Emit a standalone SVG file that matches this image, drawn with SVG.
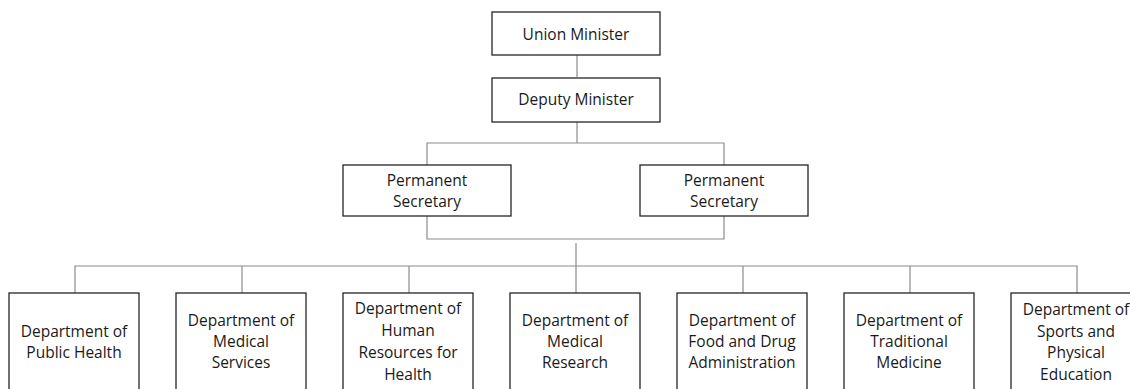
<svg xmlns="http://www.w3.org/2000/svg" width="1130" height="389" viewBox="0 0 1130 389">
  <style>
    .box { fill: #ffffff; stroke: #262626; stroke-width: 1.3; }
    .link { fill: none; stroke: #8c8c8c; stroke-width: 1.2; }
    text { font-family: "Open Sans", "Liberation Sans", sans-serif; font-size: 15.5px; fill: #1a1a1a; text-anchor: middle; }
  </style>
  <rect width="1130" height="389" fill="#ffffff"/>

  <!-- connectors -->
  <g id="connectors">
    <line class="link" x1="577" y1="55" x2="577" y2="77"/>
    <line class="link" x1="577" y1="122" x2="577" y2="143"/>
    <path class="link" d="M427 165 V143 H724 V165"/>
    <path class="link" d="M427 216 V239 H724 V216"/>
    <line class="link" x1="576" y1="243" x2="576" y2="266"/>
    <path class="link" d="M75 293 V266 H1077 V293"/>
    <line class="link" x1="242" y1="266" x2="242" y2="293"/>
    <line class="link" x1="409" y1="266" x2="409" y2="293"/>
    <line class="link" x1="576" y1="266" x2="576" y2="293"/>
    <line class="link" x1="743" y1="266" x2="743" y2="293"/>
    <line class="link" x1="910" y1="266" x2="910" y2="293"/>
  </g>

  <g id="union-minister">
    <rect class="box" x="492" y="12" width="168" height="43"/>
    <text x="576" y="39.5">Union Minister</text>
  </g>
  <g id="deputy-minister">
    <rect class="box" x="492" y="78" width="168" height="44"/>
    <text x="576" y="105">Deputy Minister</text>
  </g>
  <g id="permanent-secretary-1">
    <rect class="box" x="343" y="165" width="168" height="51"/>
    <text x="427" y="186">Permanent</text>
    <text x="427" y="207">Secretary</text>
  </g>
  <g id="permanent-secretary-2">
    <rect class="box" x="640" y="165" width="168" height="51"/>
    <text x="724" y="186">Permanent</text>
    <text x="724" y="207">Secretary</text>
  </g>

  <g id="dept-public-health">
    <rect class="box" x="9" y="293" width="130" height="110"/>
    <text x="74" y="337">Department of</text>
    <text x="74" y="358">Public Health</text>
  </g>
  <g id="dept-medical-services">
    <rect class="box" x="176" y="293" width="130" height="110"/>
    <text x="241" y="326">Department of</text>
    <text x="241" y="347">Medical</text>
    <text x="241" y="368">Services</text>
  </g>
  <g id="dept-human-resources">
    <rect class="box" x="343" y="293" width="130" height="110"/>
    <text x="408" y="314">Department of</text>
    <text x="408" y="336">Human</text>
    <text x="408" y="358">Resources for</text>
    <text x="408" y="380">Health</text>
  </g>
  <g id="dept-medical-research">
    <rect class="box" x="510" y="293" width="130" height="110"/>
    <text x="575" y="326">Department of</text>
    <text x="575" y="347">Medical</text>
    <text x="575" y="368">Research</text>
  </g>
  <g id="dept-food-drug">
    <rect class="box" x="677" y="293" width="130" height="110"/>
    <text x="742" y="326">Department of</text>
    <text x="742" y="347">Food and Drug</text>
    <text x="742" y="368">Administration</text>
  </g>
  <g id="dept-traditional-medicine">
    <rect class="box" x="844" y="293" width="130" height="110"/>
    <text x="909" y="326">Department of</text>
    <text x="909" y="347">Traditional</text>
    <text x="909" y="368">Medicine</text>
  </g>
  <g id="dept-sports">
    <rect class="box" x="1011" y="293" width="130" height="110"/>
    <text x="1076" y="315">Department of</text>
    <text x="1076" y="337">Sports and</text>
    <text x="1076" y="358">Physical</text>
    <text x="1076" y="380">Education</text>
  </g>
</svg>
